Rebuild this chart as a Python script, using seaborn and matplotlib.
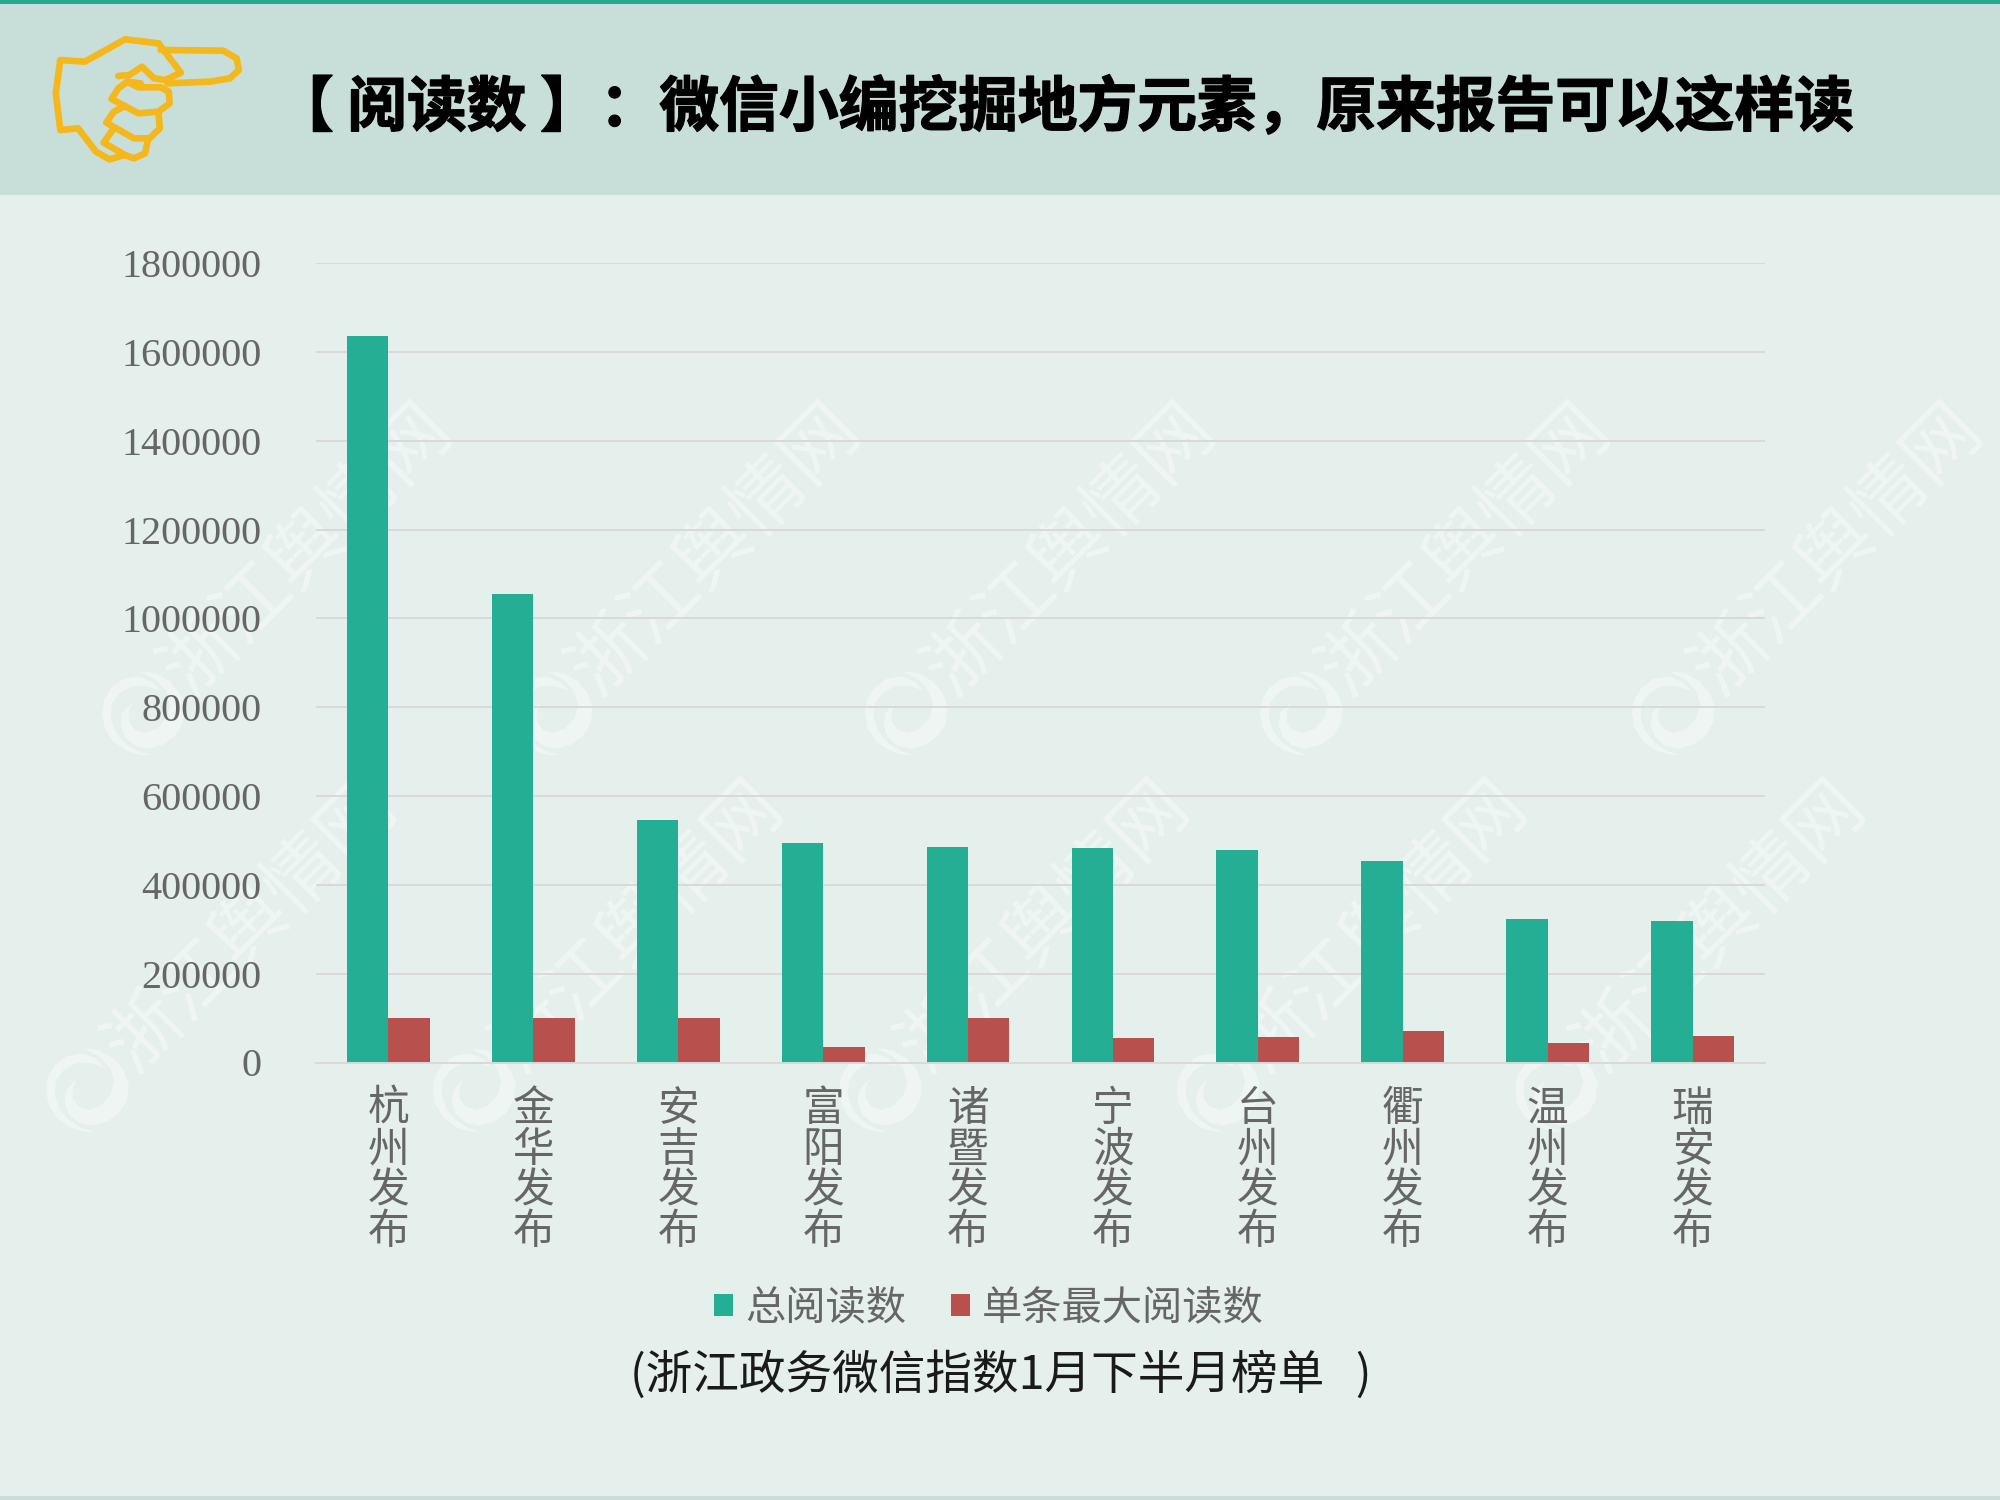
"""Reading counts of Zhejiang government WeChat accounts, grouped bars."""

import matplotlib.patheffects as pe
import matplotlib.pyplot as plt
import pandas as pd
import seaborn as sns
from matplotlib.patches import Rectangle

CJK = ["Noto Sans CJK SC", "DejaVu Sans"]

# Values
accounts = ["杭州发布", "金华发布", "安吉发布", "富阳发布", "诸暨发布",
            "宁波发布", "台州发布", "衢州发布", "温州发布", "瑞安发布"]
total_reads = [1636000, 1054000, 545000, 494000, 485000,
               482000, 479000, 454000, 324000, 319000]
max_reads = [100000, 100000, 100000, 35000, 100000,
             55000, 58000, 72000, 43000, 60000]
series_names = ["总阅读数", "单条最大阅读数"]
y_ticks = list(range(0, 1800001, 200000))

title_text = "【 阅读数 】：微信小编挖掘地方元素，原来报告可以这样读"
note_text = "(浙江政务微信指数1月下半月榜单   )"
mark_text = "浙江舆情网"

# Colours
BG = "#E5EFEB"
BAND = "#C8DFD9"
STRIPE = "#25A88F"
GREEN = "#24AE94"
RED = "#B8504E"
GRID = "#D9D9D9"
HAND = "#F5B81C"
TEXT_GREY = "#666666"

# Watermark logo centres, in pixels
mark_x_top = [143, 551, 906, 1301, 1673]
mark_x_low = [87, 474, 880, 1218, 1556]
mark_y_top = 713
mark_y_low = 1090

logo_shapes = [
    [(218, 122), (190, 95), (150, 80), (105, 88), (70, 115), (48, 150), (42, 190),
     (50, 235), (75, 275), (115, 303), (155, 315), (187, 315), (150, 305), (110, 280),
     (82, 245), (68, 205), (72, 160), (95, 130), (130, 110), (170, 108)],
    [(155, 65), (200, 70), (245, 95), (275, 130), (290, 170), (285, 220), (262, 258),
     (225, 285), (180, 297), (140, 288), (110, 262), (98, 225), (103, 190), (135, 155),
     (122, 185), (122, 215), (140, 240), (170, 250), (205, 238), (235, 205), (247, 165),
     (235, 125), (205, 90)],
]

# Pointing hand outline (x / 2.24, y / 3)
hand_paths = [
    [(355, 130), (280, 118), (190, 185), (135, 180), (125, 280), (135, 390),
     (175, 385), (215, 455), (245, 478), (280, 465)],
    [(355, 130), (405, 218), (370, 240), (345, 235), (318, 200), (290, 225), (265, 228)],
    [(360, 150), (500, 152), (530, 175), (535, 210), (515, 235), (470, 245), (375, 250)],
    [(315, 250), (285, 245), (265, 265), (250, 297), (310, 340), (355, 335),
     (380, 310), (378, 275), (360, 262), (310, 262), (285, 245)],
    [(280, 318), (255, 335), (238, 368), (300, 415), (335, 415), (358, 385), (355, 340)],
    [(255, 385), (232, 428), (280, 465), (300, 475), (325, 460), (332, 415)],
]


def draw_background(fig):
    """Header band, hand icon, watermarks and free texts, in pixel coordinates."""
    back = fig.add_axes([0, 0, 1, 1], zorder=0)
    back.set_xlim(0, 2000)
    back.set_ylim(1500, 0)
    back.axis("off")

    back.add_patch(Rectangle((0, 0), 2000, 195, color=BAND, lw=0))
    back.add_patch(Rectangle((0, 0), 2000, 4, color=STRIPE, lw=0))
    back.add_patch(Rectangle((0, 1496), 2000, 4, color=BAND, lw=0))

    for path in hand_paths:
        xs = [p[0] / 2.24 for p in path]
        ys = [p[1] / 3 for p in path]
        back.plot(xs, ys, color=HAND, lw=4.8, solid_joinstyle="round")

    back.text(274, 109, title_text, fontsize=43, fontweight="bold", color="black",
              family=CJK, ha="left", va="center",
              path_effects=[pe.withStroke(linewidth=1.0, foreground="black")])
    back.text(630, 1376, note_text, fontsize=33.6, color="#1a1a1a", family=CJK,
              fontweight="light", ha="left", va="center")

    spots = [(x, mark_y_top) for x in mark_x_top] + [(x, mark_y_low) for x in mark_x_low]
    for x, y in spots:
        for shape in logo_shapes:
            back.fill([x + (p[0] - 165) / 3 for p in shape],
                      [y + (p[1] - 190) / 3 for p in shape],
                      color="white", alpha=0.42, lw=0)
        back.text(x + 164, y - 163, mark_text, fontsize=54, fontweight="medium", color="white",
                  alpha=0.42, family=CJK, rotation=45, rotation_mode="anchor",
                  ha="center", va="center", clip_on=True)


def main():
    sns.set_theme(style="white")
    plt.rcParams["font.family"] = CJK

    df = pd.DataFrame({
        "account": accounts * 2,
        "reads": total_reads + max_reads,
        "series": [series_names[0]] * len(accounts) + [series_names[1]] * len(accounts),
    })

    fig = plt.figure(figsize=(20, 15), dpi=100, facecolor=BG)
    draw_background(fig)

    # Plot area: x 316-1765 px, y 263-1062 px
    ax = fig.add_axes([316 / 2000, 1 - 1062.5 / 1500, 1449 / 2000, 799.5 / 1500], zorder=1)
    ax.patch.set_alpha(0)

    sns.barplot(
        data=df,
        x="account",
        y="reads",
        hue="series",
        palette=[GREEN, RED],
        width=0.572,
        gap=0,
        saturation=1,
        linewidth=0,
        ax=ax,
    )

    ax.set_xlim(-0.5, len(accounts) - 0.5)
    ax.set_ylim(0, 1800000)
    ax.set_yticks(y_ticks)
    ax.set_yticklabels([str(v) for v in y_ticks], family="Liberation Serif",
                       fontsize=29, color=TEXT_GREY)
    ax.set_xticks(range(len(accounts)))
    ax.set_xticklabels(["\n".join(a) for a in accounts], fontsize=30, color=TEXT_GREY,
                       linespacing=1.0, family=CJK, fontweight="light")
    ax.tick_params(axis="both", length=0)
    ax.tick_params(axis="x", pad=19)
    ax.tick_params(axis="y", pad=39)
    ax.set_xlabel("")
    ax.set_ylabel("")

    ax.grid(axis="y", color=GRID, lw=1.4)
    ax.set_axisbelow(True)
    for side in ["top", "right", "left"]:
        ax.spines[side].set_visible(False)
    ax.spines["bottom"].set_color(GRID)
    ax.spines["bottom"].set_linewidth(1.4)

    handles, labels = ax.get_legend_handles_labels()
    leg = ax.legend(
        handles,
        labels,
        loc="center",
        bbox_to_anchor=(989 / 2000, 1 - 1308 / 1500),
        bbox_transform=fig.transFigure,
        ncol=2,
        frameon=False,
        fontsize=29,
        labelcolor=TEXT_GREY,
        handlelength=0.47,
        handleheight=0.47,
        handletextpad=0.3,
        columnspacing=1.1,
    )
    for label in leg.get_texts():
        label.set_fontweight("light")

    fig.savefig("out.png", dpi=100, facecolor=BG)
    plt.close(fig)


if __name__ == "__main__":
    main()
